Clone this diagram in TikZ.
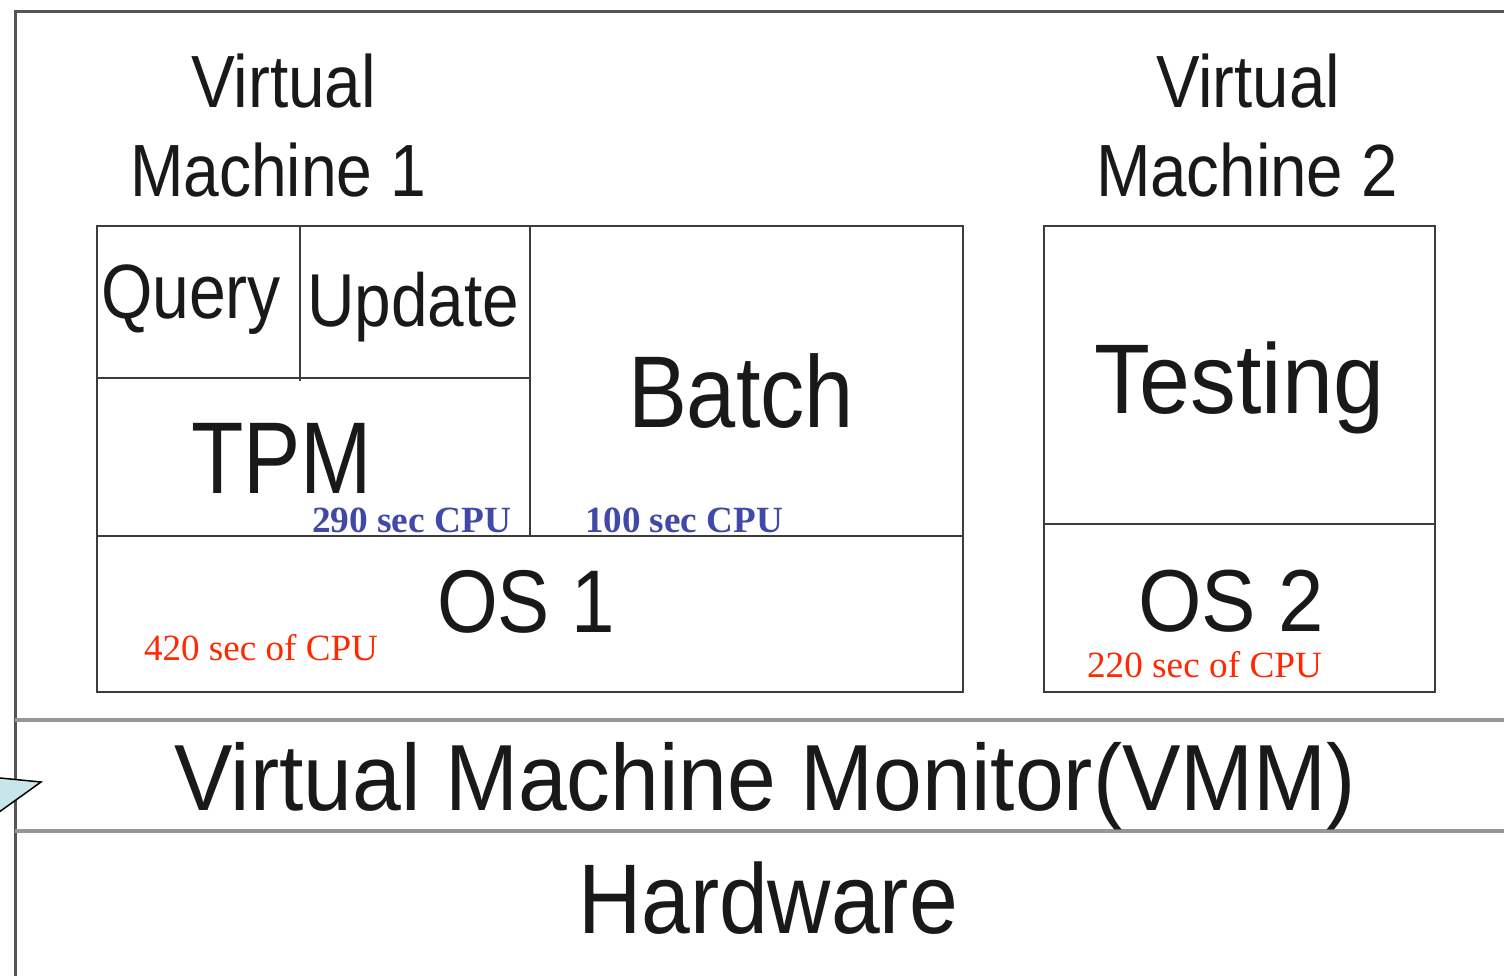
\documentclass[tikz,border=0pt]{standalone}
\usepackage{fontspec}
\usepackage{graphicx}
\setmainfont{Liberation Sans}
\newfontfamily\timesfont{Liberation Serif}
\definecolor{boxline}{RGB}{60,60,60}
\definecolor{frameline}{RGB}{85,85,85}
\definecolor{layerline}{RGB}{150,150,150}
\definecolor{cpublue}{RGB}{64,72,168}
\definecolor{cpured}{RGB}{255,40,0}
\definecolor{calloutblue}{RGB}{200,230,234}
% #1 target width (pt), #2 font size (pt), #3 text
\newcommand{\fitw}[3]{\resizebox{#1pt}{\height}{\fontsize{#2}{#2}\selectfont #3}}
\tikzset{
  lbl/.style={inner sep=0pt, outer sep=0pt, anchor=base west, text=black!90},
  bluecpu/.style={inner sep=0pt, outer sep=0pt, anchor=base west, text=cpublue, font=\timesfont\bfseries},
  redcpu/.style={inner sep=0pt, outer sep=0pt, anchor=base west, text=cpured, font=\timesfont},
  boxdraw/.style={draw=boxline, line width=2.4pt},
  framedraw/.style={draw=frameline, line width=3pt},
  layerdraw/.style={draw=layerline, line width=3.5pt}
}
\begin{document}
\begin{tikzpicture}[x=1pt,y=-1pt]
\useasboundingbox (0,0) rectangle (1504,976);
\clip (0,0) rectangle (1504,976);
% outer frame
\draw[framedraw] (1510,12) -- (15,12) -- (15,985);
% layer separators
\draw[layerdraw] (15,720) -- (1510,720);
\draw[layerdraw] (15,831) -- (1510,831);
% callout tip
\filldraw[fill=calloutblue, draw=black, line width=1.5pt, line join=miter] (-5,777.5) -- (41,782) -- (-5,815);
% VM1 box
\draw[boxdraw] (97,226) rectangle (963,692);
\draw[boxdraw] (97,378) -- (530,378);
\draw[boxdraw] (300,226) -- (300,381);
\draw[boxdraw] (530,226) -- (530,536);
\draw[boxdraw] (97,536) -- (963,536);
% VM2 box
\draw[boxdraw] (1044,226) rectangle (1435,692);
\draw[boxdraw] (1044,524) -- (1435,524);
% titles
\node[lbl] (vm1a) at (191,108) {\fitw{185}{74}{Virtual}};
\node[lbl] (vm1b) at (130,197) {\fitw{296}{74}{Machine 1}};
\node[lbl] (vm2a) at (1156,108) {\fitw{184}{74}{Virtual}};
\node[lbl] (vm2b) at (1096,197) {\fitw{302}{74}{Machine 2}};
% VM1 contents
\node[lbl] (query) at (101,318) {\fitw{180}{77}{Query}};
\node[lbl] (update) at (307,326) {\fitw{212}{75}{Update}};
\node[lbl] (tpm) at (191,493) {\fitw{181}{102}{TPM}};
\node[lbl] (batch) at (628,427) {\fitw{226}{102}{Batch}};
\node[lbl] (os1) at (437,632) {\fitw{178}{89}{OS 1}};
% VM2 contents
\node[lbl] (testing) at (1094,413) {\fitw{290}{99}{Testing}};
\node[lbl] (os2) at (1138,631) {\fitw{186}{88}{OS 2}};
% layers
\node[lbl] (vmm) at (174,810) {\fitw{1182}{94}{Virtual Machine Monitor(VMM)}};
\node[lbl] (hw) at (578,933) {\fitw{380}{99}{Hardware}};
% CPU annotations
\node[bluecpu] (cpu290) at (312,532) {\fitw{199}{37}{290 sec CPU}};
\node[bluecpu] (cpu100) at (585,532) {\fitw{198}{37}{100 sec CPU}};
\node[redcpu] (cpu420) at (144,660) {\fitw{234}{37}{420 sec of CPU}};
\node[redcpu] (cpu220) at (1087,677) {\fitw{235}{37}{220 sec of CPU}};
\end{tikzpicture}
\end{document}
